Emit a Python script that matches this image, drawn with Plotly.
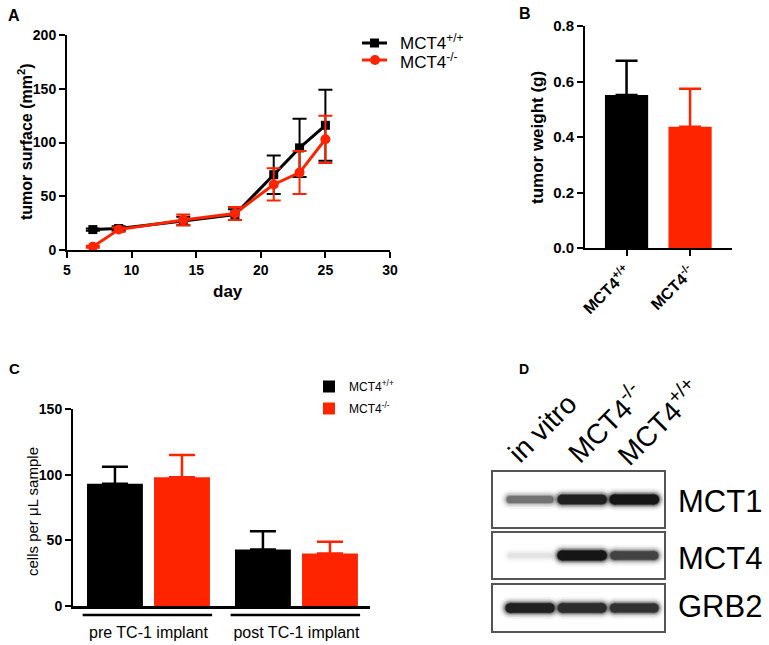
import plotly.graph_objects as go

W, H = 769, 645


def px(x):
    return x / W


def py(y):
    return 1 - y / H


FONT = "Liberation Sans, Arial, sans-serif"
RED = "#FF2400"
BLACK = "#000000"

# ---------------- Panel A data ----------------
days = [7, 9, 14, 18, 21, 23, 25]
wt_surface = [19, 20, 27, 33, 70, 95, 116]
wt_surface_err = [1, 2, 4, 5, 18, 27, 33]
ko_surface = [3, 19, 28, 34, 61, 72, 103]
ko_surface_err = [1, 2, 5, 6, 15, 20, 22]

# ---------------- Panel B data ----------------
genotypes = ["MCT4<sup>+/+</sup>", "MCT4<sup>-/-</sup>"]
tumor_weight = [0.551, 0.437]
tumor_weight_err = [0.124, 0.137]

# ---------------- Panel C data ----------------
timepoints = ["pre TC-1 implant", "post TC-1 implant"]
wt_cells = [93, 43]
wt_cells_err = [13, 14]
ko_cells = [98, 40]
ko_cells_err = [17, 9]

# ---------------- Panel D data ----------------
lanes = ["in vitro", "MCT4<sup>-/-</sup>", "MCT4<sup>+/+</sup>"]
proteins = ["MCT1", "MCT4", "GRB2"]
band_intensity = [
    [0.60, 0.95, 1.00],
    [0.12, 1.00, 0.80],
    [0.95, 0.90, 0.88],
]

fig = go.Figure()

# ---- Panel A ----
fig.add_trace(go.Scatter(
    x=days, y=wt_surface, mode="lines+markers", name="MCT4<sup>+/+</sup>",
    line=dict(color=BLACK, width=3),
    marker=dict(symbol="square", size=9, color=BLACK),
    error_y=dict(type="data", array=wt_surface_err, color=BLACK, thickness=2, width=7),
    xaxis="x", yaxis="y", showlegend=False,
))
fig.add_trace(go.Scatter(
    x=days, y=ko_surface, mode="lines+markers", name="MCT4<sup>-/-</sup>",
    line=dict(color=RED, width=3),
    marker=dict(symbol="circle", size=10, color=RED),
    error_y=dict(type="data", array=ko_surface_err, color=RED, thickness=2, width=7),
    xaxis="x", yaxis="y", showlegend=False,
))

# ---- Panel B ----
for i, col in enumerate([BLACK, RED]):
    fig.add_trace(go.Bar(
        x=[i], y=[tumor_weight[i]], width=0.68, offsetgroup="b",
        marker=dict(color=col, line=dict(width=0)),
        error_y=dict(type="data", array=[tumor_weight_err[i]], arrayminus=[0],
                     symmetric=False, color=col, thickness=2.5, width=11),
        xaxis="x2", yaxis="y2", showlegend=False, name=genotypes[i],
    ))

# ---- Panel C ----
fig.add_trace(go.Bar(
    x=[0, 1], y=wt_cells, name="MCT4<sup>+/+</sup>",
    marker=dict(color=BLACK, line=dict(width=0)),
    error_y=dict(type="data", array=wt_cells_err, arrayminus=[0, 0], symmetric=False,
                 color=BLACK, thickness=2.5, width=13),
    xaxis="x3", yaxis="y3", legendgroup="wt",
))
fig.add_trace(go.Bar(
    x=[0, 1], y=ko_cells, name="MCT4<sup>-/-</sup>",
    marker=dict(color=RED, line=dict(width=0)),
    error_y=dict(type="data", array=ko_cells_err, arrayminus=[0, 0], symmetric=False,
                 color=RED, thickness=2.5, width=13),
    xaxis="x3", yaxis="y3", legendgroup="ko",
))

# ---- Panel D (blot bands) ----
for pi, prot in enumerate(proteins):
    ax = str(4 + pi)
    for li, lane in enumerate(lanes):
        v = band_intensity[pi][li]
        g = int(round(255 * (1 - 0.95 * v)))
        col = f"rgb({g},{g},{g})"
        core = 3 + 7 * v
        for extra, op in [(12, 0.06), (8, 0.12), (5, 0.22), (2, 0.45), (0, 0.9)]:
            w = core + extra
            fig.add_trace(go.Scatter(
                x=[li - 0.38, li + 0.38], y=[0, 0], mode="lines+markers",
                line=dict(color=col, width=w),
                marker=dict(color=col, size=w, line=dict(width=0)),
                opacity=op, hoverinfo="skip", showlegend=False,
                xaxis="x" + ax, yaxis="y" + ax,
            ))

axis_common = dict(showline=True, linewidth=2, linecolor=BLACK, ticks="outside",
                   ticklen=6, tickwidth=2, tickcolor=BLACK, showgrid=False,
                   zeroline=False, mirror=False, automargin=False)

layout = dict(
    width=W, height=H, margin=dict(l=0, r=0, t=0, b=0, autoexpand=False),
    paper_bgcolor="white", plot_bgcolor="rgba(0,0,0,0)",
    font=dict(family=FONT, color=BLACK),
    barmode="group", bargap=0.094, bargroupgap=0.166,
    xaxis=dict(domain=[px(67), px(390)], range=[5, 30], tickvals=[5, 10, 15, 20, 25, 30],
               anchor="y", tickfont=dict(size=14, weight="bold"), **axis_common),
    yaxis=dict(domain=[py(250), py(35)], range=[0, 200], tickvals=[0, 50, 100, 150, 200],
               anchor="x", tickfont=dict(size=14, weight="bold"), **axis_common),
    xaxis2=dict(domain=[px(585), px(732)], range=[-0.654, 1.66], tickvals=[0, 1],
                ticktext=genotypes, tickangle=-45, anchor="y2",
                tickfont=dict(size=16, weight="bold"), **axis_common),
    yaxis2=dict(domain=[py(248), py(26)], range=[0, 0.8], tickvals=[0, 0.2, 0.4, 0.6, 0.8],
                tickformat=".1f", anchor="x2", tickfont=dict(size=15, weight="bold"), **axis_common),
    xaxis3=dict(domain=[px(73), px(370)], range=[-0.51, 1.497], tickvals=[0, 1],
                ticktext=timepoints, anchor="y3", showline=True, linewidth=2.5,
                linecolor=BLACK, ticks="", showgrid=False, zeroline=False,
                automargin=False, ticklabelstandoff=10, tickfont=dict(size=16)),
    yaxis3=dict(domain=[py(606), py(409)], range=[0, 150], tickvals=[0, 50, 100, 150],
                anchor="x3", tickfont=dict(size=14, weight="bold"), **axis_common),
    legend=dict(x=px(309), y=py(372), xanchor="left", yanchor="top",
                font=dict(size=12), bgcolor="rgba(0,0,0,0)", traceorder="grouped",
                tracegroupgap=3),
)

blot_y = [(472, 527), (533, 578), (585, 631)]
for pi, (top, bot) in enumerate(blot_y):
    n = str(4 + pi)
    layout["xaxis" + n] = dict(domain=[px(493), px(664)], range=[-0.71, 2.57],
                               anchor="y" + n, showline=True, mirror=True, linewidth=1.5,
                               linecolor="#555555", showticklabels=False, ticks="",
                               showgrid=False, zeroline=False, fixedrange=True,
                               automargin=False)
    layout["yaxis" + n] = dict(domain=[py(bot), py(top)], range=[-1, 1],
                               anchor="x" + n, showline=True, mirror=True, linewidth=1.5,
                               linecolor="#555555", showticklabels=False, ticks="",
                               showgrid=False, zeroline=False, fixedrange=True,
                               automargin=False)

fig.update_layout(**layout)

ann = []
# panel letters
for txt, x, y, s in [("A", 14, 15, 16), ("B", 525, 14, 16), ("C", 14, 368, 15), ("D", 524, 369, 14)]:
    ann.append(dict(text=f"<b>{txt}</b>", x=px(x), y=py(y), xref="paper", yref="paper",
                    showarrow=False, font=dict(size=s), xanchor="center", yanchor="middle"))
# axis titles
ann.append(dict(text="tumor surface (mm<sup>2</sup>)", x=px(25), y=py(142), xref="paper",
                yref="paper", showarrow=False, textangle=-90,
                font=dict(size=16, weight="bold"), xanchor="center", yanchor="middle"))
ann.append(dict(text="day", x=px(228), y=py(291), xref="paper", yref="paper",
                showarrow=False, font=dict(size=17, weight="bold"),
                xanchor="center", yanchor="middle"))
ann.append(dict(text="tumor weight (g)", x=px(537), y=py(138), xref="paper", yref="paper",
                showarrow=False, textangle=-90, font=dict(size=17, weight="bold"),
                xanchor="center", yanchor="middle"))
ann.append(dict(text="cells per \u03bcL sample", x=px(32), y=py(512), xref="paper",
                yref="paper", showarrow=False, textangle=-90, font=dict(size=15),
                xanchor="center", yanchor="middle"))
# panel A legend text
for txt, y in [("MCT4<sup>+/+</sup>", 42), ("MCT4<sup>-/-</sup>", 61)]:
    ann.append(dict(text=txt, x=px(398), y=py(y), xref="paper", yref="paper",
                    showarrow=False, font=dict(size=17), xanchor="left", yanchor="middle"))
# panel D labels
for txt, x, y in [(lanes[0], 542, 428), (lanes[1], 605, 423), (lanes[2], 658, 422)]:
    ann.append(dict(text=txt, x=px(x), y=py(y), xref="paper", yref="paper",
                    showarrow=False, textangle=-45, font=dict(size=28),
                    xanchor="center", yanchor="middle"))
for prot, y in zip(proteins, [501, 558, 606]):
    ann.append(dict(text=prot, x=px(676), y=py(y), xref="paper", yref="paper",
                    showarrow=False, font=dict(size=31), xanchor="left", yanchor="middle"))

shapes = []
# panel A manual legend glyphs
shapes.append(dict(type="line", xref="paper", yref="paper", x0=px(362), x1=px(387),
                   y0=py(43), y1=py(43), line=dict(color=BLACK, width=3)))
shapes.append(dict(type="rect", xref="paper", yref="paper", x0=px(370), x1=px(379),
                   y0=py(47.5), y1=py(38.5), fillcolor=BLACK, line=dict(width=0)))
shapes.append(dict(type="line", xref="paper", yref="paper", x0=px(362), x1=px(387),
                   y0=py(60), y1=py(60), line=dict(color=RED, width=3)))
shapes.append(dict(type="circle", xref="paper", yref="paper", x0=px(370), x1=px(380),
                   y0=py(65), y1=py(55), fillcolor=RED, line=dict(width=0)))
# panel C group brackets
for i in range(len(timepoints)):
    shapes.append(dict(type="line", xref="x3", yref="paper", x0=i - 0.445, x1=i + 0.43,
                       y0=py(615), y1=py(615), line=dict(color=BLACK, width=2.5)))

fig.update_layout(annotations=ann, shapes=shapes)

fig.write_html(
    "out.html",
    config={"displayModeBar": False},
    post_script="document.body.style.margin='0';document.body.style.overflow='hidden';",
)
